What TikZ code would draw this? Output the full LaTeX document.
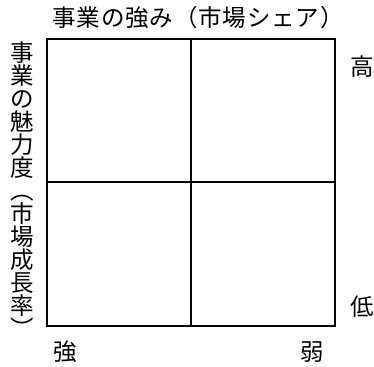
\documentclass[tikz,border=0pt]{standalone}
\usepackage{fontspec}
\newfontfamily\jpfont{Noto Sans CJK JP}

\begin{document}
\begin{tikzpicture}[x=1pt,y=-1pt]
		\useasboundingbox (0,0) rectangle (374,366);
		\begin{scope}[every node/.style={inner sep=0pt,font=\jpfont\fontsize{23.5}{23}\selectfont}]
			\node[font=\jpfont\fontsize{23.5}{23}\selectfont\addfontfeature{LetterSpace=3.5}] (title) at (198,18) {事業の強み（市場シェア）};
			\node[align=center] (attract) at (22,190) {事\\業\\の\\魅\\力\\度\\︵\\市\\場\\成\\長\\率\\︶};
			\node (high) at (362,67) {高};
			\node (low) at (362,307) {低};
			\node (strong) at (65,352) {強};
			\node (weak) at (312,352) {弱};
		\end{scope}
		
		\coordinate (nw) at (47,39);
		\coordinate (se) at (335,326);
		\coordinate (n) at (191,39);
		\coordinate (s) at (191,326);
		\coordinate (w) at (47,182);
		\coordinate (e) at (335,182);
		
		\begin{scope}[line width=1.6pt]
			\draw (nw) rectangle (se);
			\draw (n) -- (s);
			\draw (w) -- (e);
		\end{scope}
\end{tikzpicture}
\end{document}
